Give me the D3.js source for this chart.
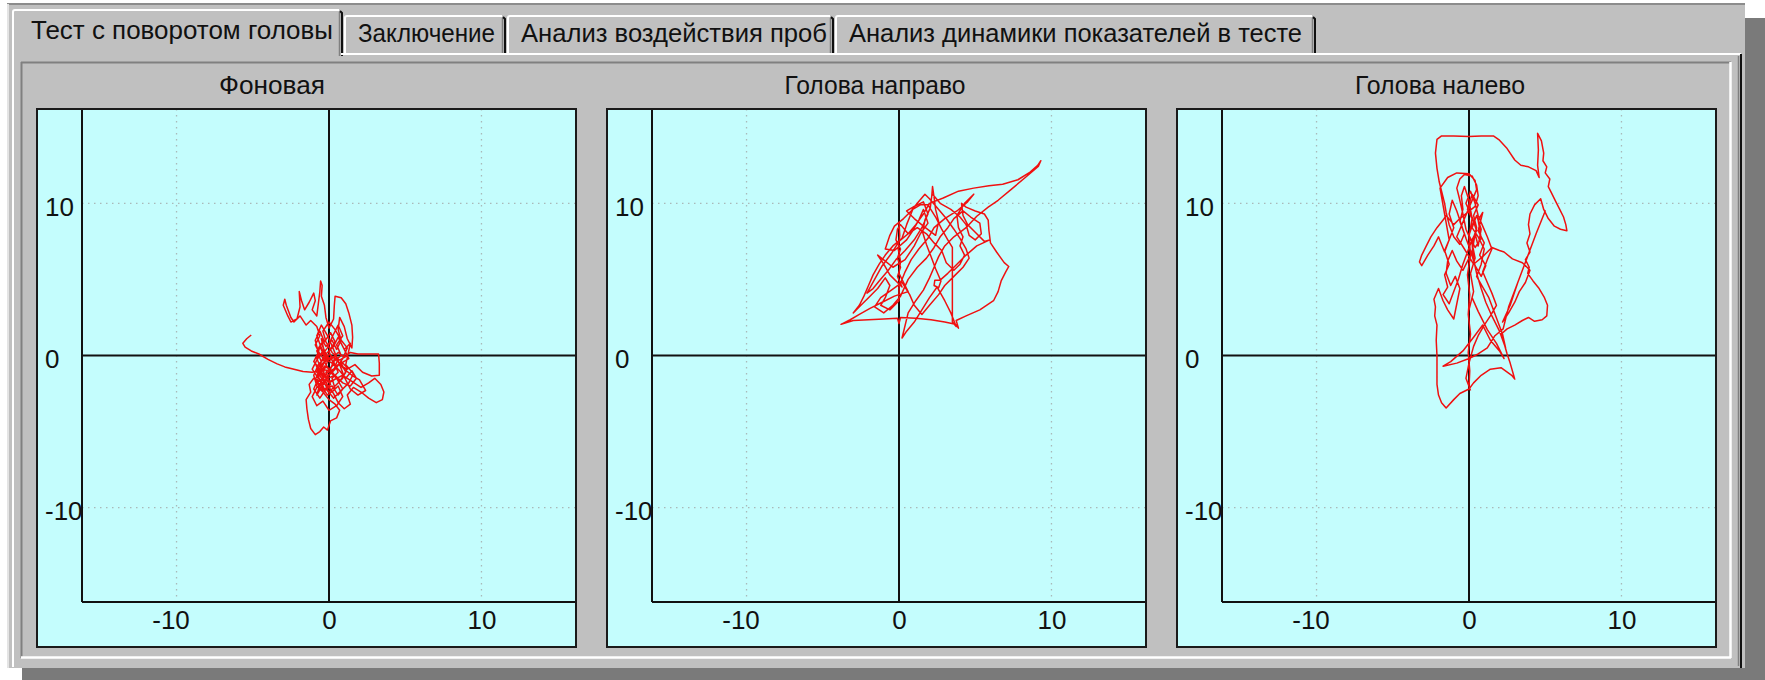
<!DOCTYPE html>
<html><head><meta charset="utf-8">
<script src="https://cdn.jsdelivr.net/npm/d3@7"></script>
<style>
html,body{margin:0;padding:0;background:#fff;}
svg{display:block;font-family:"Liberation Sans",Arial,sans-serif;}
</style></head><body>
<svg id="chart" width="1765" height="680"></svg>
<script>
// ---- data ----
const tabLabels = ["Тест с поворотом головы", "Заключение", "Анализ воздействия проб", "Анализ динамики показателей в тесте"];
const panelTitles = ["Фоновая", "Голова направо", "Голова налево"];
const tickValues = [-10, 0, 10];
const axisDomain = [-16.2, 16.2];

// centre-of-pressure trace, background recording
const traceBackground = [
  [-5.1,1.35],[-5.4,1.1],[-5.65,0.8],[-5.5,0.55],[-5.1,0.3],[-4.6,0.1],[-4.0,-0.25],[-3.4,-0.55],[-2.9,-0.75],[-2.3,-0.9],[-1.7,-1.05],[-1.1,-1.1],[-0.7,-1.0],
  [-0.9,-0.5],[-0.6,0.1],[-0.9,0.7],[-0.6,1.3],[-0.8,1.9],[-1.2,2.3],[-1.5,2.0],[-1.9,2.6],[-2.3,2.2],[-2.5,2.5],[-2.8,3.3],[-2.9,3.7],[-3.0,3.3],[-2.7,2.6],[-2.5,2.2],[-2.1,2.4],[-1.9,3.2],[-1.95,4.2],[-1.8,3.6],[-1.6,3.0],[-1.3,3.5],[-1.0,4.1],[-0.9,3.6],[-1.1,3.0],[-0.8,2.6],[-0.7,3.4],[-0.6,4.2],[-0.55,4.9],[-0.45,4.6],[-0.5,3.9],[-0.3,3.3],[-0.2,2.5],[0.0,1.8],
  [0.3,2.4],[0.35,3.3],[0.4,3.9],[0.8,3.8],[1.1,3.4],[1.3,2.8],[1.5,2.0],[1.55,1.2],[1.5,0.5],[1.2,1.1],[1.0,1.9],[0.7,2.5],[0.6,1.7],[0.8,1.0],[0.5,0.4],[0.2,1.0],[-0.2,0.6],[-0.5,1.1],[-0.3,0.2],[0.1,-0.3],[0.6,0.2],[1.0,-0.1],[1.4,0.2],[1.9,0.1],[2.5,0.1],[3.25,0.1],[3.3,-0.5],[3.3,-1.3],[2.8,-1.35],[2.2,-1.1],[1.7,-0.6],[1.2,-0.9],[0.6,-0.6],[0.2,-1.0],[-0.3,-0.7],[-0.6,-1.3],[-0.3,-1.8],[0.3,-1.6],[0.9,-1.3],[1.5,-1.7],[2.1,-2.1],[2.6,-1.8],[3.0,-1.5],[3.4,-1.9],[3.6,-2.4],[3.5,-2.9],[3.1,-3.1],[2.6,-2.8],[2.1,-2.4],[1.6,-2.1],[1.2,-2.6],[1.4,-3.2],[1.0,-3.5],[0.6,-3.1],[0.3,-2.5],[-0.1,-2.0],[-0.6,-1.7],[-1.0,-1.5],[-1.3,-1.9],[-1.2,-2.4],[-1.5,-2.9],[-1.45,-3.5],[-1.35,-4.2],[-1.2,-4.8],[-0.9,-5.2],[-0.6,-5.0],[-0.35,-4.7],[-0.1,-4.9],[0.1,-4.3],[0.5,-4.1],[0.7,-3.6],[0.4,-3.2],[0.0,-2.9],[-0.4,-2.4],[-0.8,-2.0],[-1.0,-1.3],[-0.7,-0.6],[-0.3,-0.2],[0.2,-0.5],[0.7,-1.0],[1.1,-1.5],[1.5,-1.0],[1.8,-1.5],[1.4,-2.0],[0.9,-1.8],[0.4,-1.3],[-0.1,-1.5],[-0.5,-2.1],[-0.8,-2.6],[-0.6,-1.9],[-0.2,-1.2],[0.3,-0.9],[0.8,-0.4],[1.2,-0.8],[0.9,-1.5],[0.4,-2.0],[0.0,-2.4],[-0.4,-1.6],[-0.8,-1.1],[-0.5,-0.4],[-0.8,0.3],[-0.5,0.8],[-0.2,0.1],[0.3,0.6],[0.6,1.2],[0.9,0.6],[1.2,0.0],[0.7,-0.3],[0.2,-0.1],[-0.4,-0.5],[-0.7,-1.4],[-0.3,-2.2],[0.2,-2.0],[0.6,-2.6],[0.9,-2.2],[0.5,-1.5],[0.0,-1.0],[-0.5,-0.9],[-0.8,-0.2],[-0.6,0.6],
  [-0.2,-0.3],[-0.7,-0.8],[-0.3,-1.4],[-0.8,-1.8],[-0.4,-2.3],[0.1,-1.9],[-0.2,-1.1],[0.3,-0.6],[0.0,0.3],[0.4,0.9],[0.1,1.5],[-0.3,0.9],[-0.6,1.6],[-0.9,1.0],[-0.7,0.2],[-1.0,-0.4],[-0.6,-0.9],[-0.9,-1.6],[-0.5,-2.0],[-0.1,-2.6],[0.4,-2.2],[0.2,-1.5],[0.6,-1.1],[0.3,-0.4],[0.8,0.0],[0.5,0.7],[0.9,1.3],[0.6,2.0],[0.2,1.2],[-0.1,0.5],[-0.5,0.0],[-0.2,-0.6],[0.2,-1.2],[0.7,-1.7],[1.1,-1.1],[0.8,-0.5],[1.3,-0.2],[1.0,0.4],[1.4,0.8],[1.1,-0.6],[1.6,-1.2],[1.3,-1.8],[0.8,-2.3],[0.3,-2.8],[-0.2,-2.2],[-0.6,-2.8],[-1.0,-2.2],[-0.7,-1.5],[-1.1,-0.9],[-0.8,-0.3],[-0.4,0.3],[-0.1,-0.2],[0.4,-0.1],[0.1,-0.9],[0.5,-1.5],[0.0,-1.8],[-0.4,-1.2],[-0.1,-0.4],[-0.5,0.5],[-0.8,1.3],[-0.5,2.0],[-0.1,1.3],[0.3,0.4],[0.7,-0.6],[1.0,-1.4],[1.4,-2.2],[1.9,-2.6],[2.4,-2.3],[2.0,-1.6],[1.5,-1.3],[1.0,-0.9],[0.5,-0.3],[0.0,0.1],[-0.3,-0.4],[-0.6,-1.1],[-0.3,-1.6],[0.2,-2.4],[0.6,-2.0],[0.9,-2.7],[0.5,-3.3],[0.0,-3.6],[-0.4,-3.0],[-0.8,-3.3],[-1.1,-2.7],[-0.8,-2.1],[-0.4,-1.8],[0.0,-1.3],[0.5,-0.8],[0.9,-0.2],[1.2,0.5],[0.8,1.0],[0.4,1.7],[0.0,2.2],[-0.4,1.6],[-0.2,0.9],[0.2,0.2],[0.6,-0.2],[0.3,-1.0],[-0.2,-1.4],[-0.6,-0.6],[-0.3,0.0]
];

// trace with the head turned right
const traceHeadRight = [
  [0.0,8.8],[0.05,7.9],[-0.05,7.0],[0.1,6.2],[0.0,5.4],[0.3,4.8],[0.6,4.2],
  [-0.3,3.9],[-1.1,3.5],[-1.9,3.1],[-2.6,2.7],[-3.2,2.35],[-3.8,2.05],
  [-3.0,2.3],[-2.0,2.35],[-1.0,2.4],[-0.1,2.45],[0.0,2.1],[0.1,2.5],[1.1,2.45],[2.1,2.35],[3.0,2.2],[3.7,2.05],[3.9,1.8],[3.75,2.3],
  [4.4,2.6],[5.3,3.0],[6.2,3.6],[6.5,4.2],[6.7,4.9],[7.0,5.5],[7.2,5.85],[6.9,6.1],[6.4,6.8],[6.0,7.4],
  [5.9,8.2],[5.85,8.9],[5.6,9.3],[5.0,9.5],[4.4,9.75],[4.1,10.0],[4.2,9.2],[4.5,8.6],[5.0,8.1],[5.6,7.5],[5.95,7.6],
  [5.1,7.2],[4.4,6.6],[3.8,6.0],[3.2,5.4],[2.7,4.95],[2.35,4.95],[2.3,4.6],[2.6,4.45],[2.75,4.9],
  [2.4,5.7],[2.1,6.5],[1.8,7.3],[1.55,8.1],[1.7,8.9],[2.05,9.7],[2.15,10.5],[2.2,11.1],[2.3,10.4],[2.4,9.6],[2.6,8.8],[2.4,7.9],
  [1.6,8.5],[1.0,9.0],[0.5,9.5],[1.0,9.8],[1.6,10.1],[1.9,9.3],[1.5,8.4],[1.0,7.6],[0.4,6.9],[-0.2,6.3],[-0.7,5.6],[-1.3,4.9],[-1.7,4.4],[-2.1,4.1],[-1.6,5.0],[-1.1,5.9],[-0.5,6.7],[0.0,7.5],
  [0.6,8.0],[1.1,8.6],[1.6,9.3],[2.0,10.0],[2.9,10.35],[3.9,10.8],[4.9,11.0],[5.9,11.15],[6.8,11.25],[7.8,11.55],[8.6,12.05],[9.1,12.5],[9.3,12.8],[9.15,12.45],[8.4,11.8],[7.4,10.95],[6.5,10.2],[5.85,9.75],[5.1,9.15],[4.4,8.4],[3.6,7.8],[3.0,7.2],[2.6,6.5],[2.3,5.8],
  [2.0,5.1],[1.6,4.3],[1.1,3.6],[0.6,2.8],[0.2,1.15],[0.5,1.6],[1.0,2.2],[1.5,3.0],[2.0,3.8],[2.5,4.5],[3.0,3.6],[3.4,2.8],[3.75,1.9],
  [3.5,2.2],[3.5,3.5],[3.5,4.8],[3.5,6.0],[3.5,7.1],[3.2,7.6],[2.8,8.3],[2.4,9.1],[1.9,9.9],[1.4,9.9],[0.9,9.6],[0.5,8.6],[0.2,7.7],[-0.4,7.2],[-0.9,6.6],[-1.3,6.0],[-1.7,5.3],[-2.0,4.6],[-2.3,3.9],[-2.6,3.3],[-3.0,2.8],
  [-2.5,3.3],[-2.0,3.8],[-1.4,4.4],[-0.9,5.1],[-0.6,4.6],[-0.9,3.8],[-1.2,3.3],[-0.6,3.0],[0.0,3.6],[0.0,4.5],[0.4,5.5],[0.8,6.3],[1.3,7.0],[1.9,7.7],[2.3,8.4],[3.0,9.0],[3.8,9.5],[4.5,10.1],[4.9,10.6],
  [4.3,10.0],[3.8,9.2],[3.9,8.4],[4.2,7.8],[4.0,7.2],[4.3,6.6],[4.0,6.0],[3.6,5.6],[3.1,6.1],[2.8,6.9],[2.3,7.4],[1.8,8.0],[1.2,8.4],[0.6,8.0],[0.1,8.6],[-0.1,8.3],
  [-0.2,7.6],[0.1,7.0],[-0.1,6.4],[0.1,5.8],[-0.1,5.2],[0.2,4.5],[-0.6,5.3],[-1.0,6.0],[-1.4,6.6],[-0.9,6.2],[-0.4,5.8],[0.4,6.3],[1.0,7.2],[1.4,8.0],[1.9,8.7],[1.6,9.6],[1.3,8.9],[0.9,8.2],[0.5,7.6],[-0.3,6.9],[-0.9,7.0],[-0.6,7.9],[-0.3,8.5],[0.3,9.0],[0.8,9.5],[1.2,10.0],[1.7,10.6],[2.0,10.3],[2.6,9.6],[3.1,9.0],[3.6,8.3],[4.0,7.7],[4.4,7.0],[4.6,6.4],[4.2,5.8],[3.6,5.2],[3.0,4.6],[2.6,4.0],[2.0,3.3],[1.5,2.7],[1.0,3.3],[0.7,4.0],[0.2,4.8],[-0.5,4.3],[-1.2,3.8],[-1.6,3.2],[-1.0,2.8],[-0.4,3.3],[0.1,3.9],[0.6,5.0],[1.2,5.8],[1.8,6.4],[2.3,7.1],[2.7,7.8],[3.2,8.4],[3.6,9.0],[4.2,9.5],[4.7,9.1],[5.3,8.7],[5.4,8.0],[5.0,7.6],[4.6,7.9],[4.4,8.6],[4.0,9.1],[3.4,9.6],[2.7,10.0],[2.2,10.6]
];

// trace with the head turned left
const traceHeadLeft = [
  [0.0,-2.1],[0.05,-1.0],[-0.05,0.2],[0.1,1.4],[-0.05,2.7],[0.05,4.0],[-0.1,5.3],[0.1,6.6],[0.0,7.8],[0.2,9.0],[0.0,10.2],[-0.3,11.1],[-0.5,10.5],[-0.4,9.6],[-0.6,8.8],[-0.3,8.0],[-0.6,7.3],
  [-1.0,7.8],[-1.3,8.6],[-1.5,9.4],[-1.6,10.0],[-1.75,10.6],[-1.95,11.4],[-2.1,12.3],[-2.2,13.3],[-2.1,14.2],[-1.8,14.43],[-1.0,14.43],[0.0,14.4],[0.8,14.43],[1.6,14.43],[2.0,14.15],[2.5,13.6],[3.0,12.85],[3.4,12.5],[3.9,12.4],[4.4,12.15],[4.6,11.7],
  [4.5,12.5],[4.55,13.5],[4.5,14.6],[4.75,14.1],[4.9,13.3],[4.85,12.8],[5.1,12.4],[5.0,12.0],[5.3,11.6],[5.2,11.1],[5.4,10.7],
  [5.7,10.1],[5.95,9.6],[6.2,9.1],[6.35,8.6],[6.42,8.2],[6.0,8.3],[5.6,8.5],[5.2,9.0],[4.9,9.6],[4.7,10.3],
  [4.3,9.9],[4.0,9.3],[3.9,8.6],[4.0,8.0],[3.8,7.4],[4.0,6.8],[3.7,6.3],[3.95,5.8],[3.85,5.4],
  [4.2,4.9],[4.6,4.4],[4.95,3.8],[5.15,3.3],[5.1,2.6],[4.8,2.35],[4.3,2.25],[3.9,2.5],[3.5,2.3],[3.0,2.0],[2.5,1.75],[2.1,1.4],
  [2.3,0.8],[2.5,0.1],[2.7,-0.5],[2.9,-1.2],[3.0,-1.55],[2.8,-1.3],[2.1,-0.8],[1.4,-0.9],[0.8,-1.3],[0.3,-1.8],[0.0,-2.2],[-0.6,-2.5],[-1.0,-2.9],[-1.5,-3.45],[-1.8,-3.1],[-2.0,-2.6],[-2.1,-1.9],[-2.1,-1.0],[-2.1,0.0],[-2.15,1.0],[-2.1,2.0],[-2.25,2.6],[-2.2,3.2],[-2.3,3.7],[-2.0,4.4],
  [-1.7,3.6],[-1.4,3.0],[-1.0,2.4],[-0.8,3.4],[-0.6,4.4],[-0.9,5.2],[-1.2,4.6],[-1.5,5.4],[-1.4,6.2],[-1.1,6.9],[-0.8,6.2],[-0.4,5.6],
  [0.2,6.8],[0.4,8.0],[0.6,7.2],[0.8,8.3],[0.5,9.2],[0.2,8.4],[0.6,7.8],[1.0,7.0],[0.8,6.0],[0.5,5.2],[0.9,4.5],[1.3,3.8],[1.6,3.0],[1.9,2.2],[2.2,1.4],[2.4,0.5],
  [2.0,1.6],[1.5,2.6],[1.1,3.5],[0.8,4.4],[0.5,5.4],[0.3,6.3],[0.2,7.4],[-0.2,8.3],[-0.4,9.3],[-0.6,10.2],[-0.8,11.0],[-0.6,11.6],[-0.3,11.9],[0.2,11.8],[0.5,11.2],[0.6,10.5],[0.4,9.8],
  [-0.6,9.0],[-1.0,8.6],[-1.5,9.2],[-1.7,8.9],[-2.1,8.4],[-2.5,7.8],[-2.8,7.2],[-3.1,6.6],[-3.25,6.15],[-3.1,5.9],[-2.7,6.6],[-2.3,7.2],[-2.0,7.8],[-1.8,7.3],[-1.6,6.8],[-1.3,7.6],
  [-1.9,11.0],[-1.4,11.7],[-0.8,12.0],[0.0,11.95],[0.4,11.5],[0.5,10.9],
  [-0.8,7.8],[-0.3,7.0],[0.3,6.0],[0.9,6.5],[1.5,7.1],[2.0,6.9],[2.3,6.8],[2.85,6.35],[3.5,6.1],[4.0,5.6],[3.7,4.8],[3.3,4.2],[3.0,3.5],[2.6,2.8],[2.2,2.2],
  [2.7,3.3],[3.2,4.8],[3.8,6.4],[4.4,8.0],[5.0,9.5],[4.4,8.0],[3.8,6.4],[3.2,4.8],[2.6,3.2],[2.24,1.75],
  [1.7,1.3],[1.2,0.5],[0.6,0.1],[0.0,-0.2],[-0.8,-0.5],[-1.7,-0.7],[-1.2,-0.4],[-0.4,0.3],[0.3,1.2],[0.9,2.0],[1.4,1.0],[2.0,0.3],[2.3,-0.2],
  [1.8,0.8],[1.2,1.7],[0.6,2.9],[0.2,3.8],[0.0,3.0],
  [0.3,4.2],[0.1,5.4],[0.4,6.4],[0.2,7.4],[0.5,8.4],[0.3,9.2],[0.6,9.9],[0.2,10.6],[-0.1,9.6],[0.3,8.8],[0.0,7.9],[0.4,7.1],[0.8,7.7],[0.6,8.9],[0.9,9.4],[0.6,8.2],[1.0,7.4],[0.7,6.6],[1.1,5.9],[0.8,5.2],[0.4,5.9],[0.1,6.9],[-0.2,7.7],[-0.5,8.6],[-0.8,9.5],[-1.1,10.2],[-1.3,9.3],[-1.0,8.4],[-1.3,7.6],[-1.6,6.9],[-1.3,6.0],[-1.6,5.3],[-1.4,4.5],[-1.7,4.0],[-1.3,3.4],[-1.0,4.2],[-0.7,5.0],[-0.4,6.0],[-0.1,6.8],[0.2,7.6],[0.5,8.2],[0.2,9.1],[-0.2,10.0],[0.1,10.8],[0.4,10.0],[0.6,9.2],[0.9,8.5],[1.2,7.8],[1.5,7.0],[1.2,6.3],[0.9,5.5],[1.2,4.8],[1.5,4.1],[1.8,3.3],[1.4,2.6],[1.0,2.0],[0.6,1.3],[0.3,0.6],[0.0,-0.5],[-0.2,-1.5],[0.1,-2.3]
];

const traces = [traceBackground, traceHeadRight, traceHeadLeft];

// ---- layout ----
const svg = d3.select("#chart");
const GRAY = "#c0c0c0", DARK = "#808080";
const FONT = 25;

// window with drop shadow
svg.append("rect").attr("x", 22).attr("y", 18).attr("width", 1743).attr("height", 662).attr("fill", "#7a7a7a");
svg.append("rect").attr("x", 7).attr("y", 3).attr("width", 1738).attr("height", 665).attr("fill", GRAY);
svg.append("line").attr("x1", 7).attr("x2", 1745).attr("y1", 4).attr("y2", 4).attr("stroke", "#8c8c8c").attr("stroke-width", 2);
svg.append("line").attr("x1", 8).attr("x2", 8).attr("y1", 4).attr("y2", 668).attr("stroke", "#e4e4e4").attr("stroke-width", 2);

// tab strip
const tabEdges = [12, 343, 506, 834, 1316];
const tabTextX = [31, 358, 521, 849];
const tabTextW = [302, 137, 306, 453];
const tabs = svg.append("g");
tabLabels.forEach((label, i) => {
  const sel = i === 0;
  const x0 = tabEdges[i] + (sel ? 0 : 1), x1 = tabEdges[i + 1] - 1;
  const top = sel ? 9 : 15, bottom = sel ? 56 : 53;
  const g = tabs.append("g");
  g.append("rect").attr("x", x0).attr("y", top).attr("width", x1 - x0).attr("height", bottom - top).attr("fill", GRAY);
  g.append("path").attr("d", `M${x0 + 1},${bottom} V${top + 3} Q${x0 + 1},${top + 1} ${x0 + 3},${top + 1} H${x1 - 3}`)
    .attr("fill", "none").attr("stroke", "#ffffff").attr("stroke-width", 2);
  g.append("line").attr("x1", x1 - 2.5).attr("x2", x1 - 2.5).attr("y1", top + 3).attr("y2", bottom).attr("stroke", DARK).attr("stroke-width", 1.5);
  g.append("path").attr("d", `M${x1 - 2},${top + 2} L${x1},${top + 4} V${bottom}`)
    .attr("fill", "none").attr("stroke", "#101010").attr("stroke-width", 2);
  g.append("text").attr("x", tabTextX[i]).attr("y", sel ? 39 : 41.5)
    .attr("font-size", FONT).attr("fill", "#111")
    .attr("textLength", tabTextW[i]).attr("lengthAdjust", "spacingAndGlyphs")
    .text(label);
});

// tab page border (raised) and inner sunken panel
svg.append("line").attr("x1", 341).attr("x2", 1741).attr("y1", 54).attr("y2", 54).attr("stroke", "#ffffff").attr("stroke-width", 2);
svg.append("line").attr("x1", 13).attr("x2", 13).attr("y1", 54).attr("y2", 667).attr("stroke", "#ffffff").attr("stroke-width", 2);
svg.append("line").attr("x1", 1741).attr("x2", 1741).attr("y1", 54).attr("y2", 668).attr("stroke", "#101010").attr("stroke-width", 2);
svg.append("line").attr("x1", 1738.5).attr("x2", 1738.5).attr("y1", 56).attr("y2", 666).attr("stroke", DARK).attr("stroke-width", 1.5);
svg.append("line").attr("x1", 21).attr("x2", 1731).attr("y1", 62.5).attr("y2", 62.5).attr("stroke", DARK).attr("stroke-width", 2);
svg.append("line").attr("x1", 21.5).attr("x2", 21.5).attr("y1", 62).attr("y2", 658).attr("stroke", DARK).attr("stroke-width", 2);
svg.append("line").attr("x1", 1730.5).attr("x2", 1730.5).attr("y1", 62).attr("y2", 658).attr("stroke", "#ffffff").attr("stroke-width", 2.5);
svg.append("line").attr("x1", 21).attr("x2", 1731).attr("y1", 657.5).attr("y2", 657.5).attr("stroke", "#ffffff").attr("stroke-width", 2.5);

// ---- the three stabilogram panels ----
const boxLeft = [37, 607, 1177];
const titleX = [272, 875, 1440];
const titleW = [106, 181, 170];
const boxW = 539, boxTop = 109, boxBottom = 647, plotInset = 45, plotBottom = 602;

const line = d3.line().curve(d3.curveLinear);

panelTitles.forEach((title, i) => {
  const bx = boxLeft[i];
  const pl = bx + plotInset, pr = bx + boxW;
  const x = d3.scaleLinear().domain(axisDomain).range([pl, pr]);
  const y = d3.scaleLinear().domain(axisDomain).range([plotBottom, boxTop]);
  const g = svg.append("g");

  g.append("text").attr("x", titleX[i]).attr("y", 94).attr("text-anchor", "middle")
    .attr("font-size", FONT).attr("fill", "#111")
    .attr("textLength", titleW[i]).attr("lengthAdjust", "spacingAndGlyphs")
    .text(title);

  g.append("rect").attr("x", bx).attr("y", boxTop).attr("width", boxW).attr("height", boxBottom - boxTop)
    .attr("fill", "#c4fdfd");

  // dotted grid at the non-zero ticks
  const gridVals = tickValues.filter(v => v !== 0);
  g.append("g").selectAll("line").data(gridVals).join("line")
    .attr("x1", d => x(d)).attr("x2", d => x(d)).attr("y1", boxTop).attr("y2", plotBottom)
    .attr("stroke", "#a9b9b9").attr("stroke-width", 1.3).attr("stroke-dasharray", "1.5,4.5");
  g.append("g").selectAll("line").data(gridVals).join("line")
    .attr("y1", d => y(d)).attr("y2", d => y(d)).attr("x1", pl).attr("x2", pr)
    .attr("stroke", "#a9b9b9").attr("stroke-width", 1.3).attr("stroke-dasharray", "1.5,4.5");

  // zero cross
  g.append("line").attr("x1", x(0)).attr("x2", x(0)).attr("y1", boxTop).attr("y2", plotBottom)
    .attr("stroke", "#111").attr("stroke-width", 2);
  g.append("line").attr("y1", y(0)).attr("y2", y(0)).attr("x1", pl).attr("x2", pr)
    .attr("stroke", "#111").attr("stroke-width", 2);

  // trace
  const clipId = "clip" + i;
  g.append("clipPath").attr("id", clipId).append("rect")
    .attr("x", pl).attr("y", boxTop).attr("width", pr - pl).attr("height", plotBottom - boxTop);
  g.append("path").datum(traces[i])
    .attr("clip-path", `url(#${clipId})`)
    .attr("d", line.x(d => x(d[0])).y(d => y(d[1])))
    .attr("fill", "none").attr("stroke", "#f01010").attr("stroke-width", 1.5)
    .attr("stroke-linejoin", "round");

  // axes
  const fmt = d => String(d);
  const xAxis = g.append("g").attr("transform", `translate(0,${plotBottom})`)
    .call(d3.axisBottom(x).tickValues(tickValues).tickSize(0).tickFormat(fmt));
  xAxis.select(".domain").remove();
  xAxis.selectAll("text").attr("y", 27).attr("dy", null).attr("dx", d => d < 0 ? -6 : 0)
    .attr("font-size", 26).attr("font-family", "Liberation Sans, Arial, sans-serif").attr("fill", "#111");

  const yAxis = g.append("g").attr("transform", `translate(${pl},0)`)
    .call(d3.axisLeft(y).tickValues(tickValues).tickSize(0).tickFormat(fmt));
  yAxis.select(".domain").remove();
  yAxis.selectAll("text").attr("x", -(plotInset - 8)).attr("y", 12).attr("dy", null)
    .attr("text-anchor", "start")
    .attr("font-size", 26).attr("font-family", "Liberation Sans, Arial, sans-serif").attr("fill", "#111");

  // plot frame: left and bottom axis lines, then outer box border
  g.append("line").attr("x1", pl).attr("x2", pl).attr("y1", boxTop).attr("y2", plotBottom).attr("stroke", "#111").attr("stroke-width", 2);
  g.append("line").attr("x1", pl).attr("x2", pr).attr("y1", plotBottom).attr("y2", plotBottom).attr("stroke", "#111").attr("stroke-width", 2);
  g.append("rect").attr("x", bx).attr("y", boxTop).attr("width", boxW).attr("height", boxBottom - boxTop)
    .attr("fill", "none").attr("stroke", "#1a1a1a").attr("stroke-width", 2);
});
</script>
</body></html>
